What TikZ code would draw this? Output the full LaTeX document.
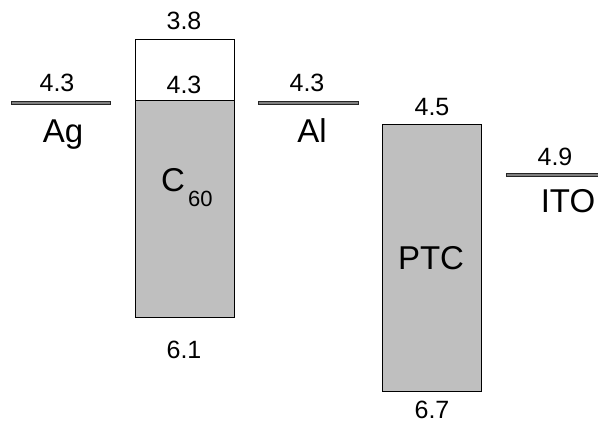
\documentclass[tikz,border=0pt]{standalone}
\usepackage{fontspec}
\setmainfont{Liberation Sans}
\begin{document}
\begin{tikzpicture}[x=1pt,y=-1pt,
  num/.style={font=\fontsize{25}{30}\selectfont, anchor=base, inner sep=0pt},
  big/.style={font=\fontsize{33}{40}\selectfont, anchor=base, inner sep=0pt},
  level/.style={fill=black!50, draw=black!85, line width=0.8pt, inner sep=0pt, minimum height=3pt},
  band/.style={draw=black, line width=1pt, inner sep=0pt, minimum width=99pt}]
\useasboundingbox (0,0) rectangle (598,425);
% metal levels
\node[level, minimum width=99pt] (ag) at (60.5,102.5) {};
\node[level, minimum width=100pt] (al) at (308,102.5) {};
\node[level, minimum width=94pt] (ito) at (553,175) {};
% C60
\node[band, fill=white, minimum height=61pt] (c60top) at (184.5,70.5) {};
\node[band, fill=black!25, minimum height=217pt] (c60) at (184.5,209.5) {};
% PTC
\node[band, fill=black!25, minimum height=266pt] (ptc) at (431.5,258) {};
% labels
\node[num] (agv) at (57,92) {4.3};
\node[big] (agl) at (63,143) {Ag};
\node[num] (c60lumo) at (184,30) {3.8};
\node[num] (c60w) at (184,94) {4.3};
\node[inner sep=0pt, anchor=base west, font=\fontsize{33}{40}\selectfont] (c60l) at (161,192) {C\hspace{3pt}\raisebox{-15pt}{\fontsize{22}{26}\selectfont 60}};
\node[num] (c60homo) at (184,359) {6.1};
\node[num] (alv) at (307,92) {4.3};
\node[big] (all) at (312,143) {Al};
\node[num] (ptclumo) at (432,116) {4.5};
\node[big] (ptcl) at (431,270) {PTC};
\node[num] (ptchomo) at (432,418) {6.7};
\node[num] (itov) at (555,166) {4.9};
\node[big] (itol) at (568,213) {ITO};
\end{tikzpicture}
\end{document}
